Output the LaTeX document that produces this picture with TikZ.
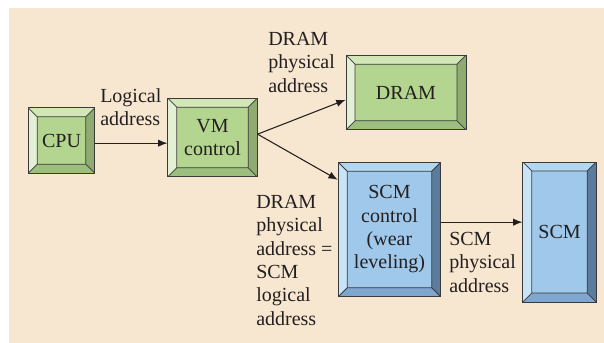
\documentclass[tikz,border=0pt]{standalone}
\usepackage{fontspec}
\setmainfont{Liberation Serif}
\usetikzlibrary{arrows.meta}

% colours of the bevelled blocks
\definecolor{pagebg}{HTML}{F8E7D0}
\definecolor{edge}{HTML}{3A3A3A}
\definecolor{ink}{HTML}{231F20}
\definecolor{greenmid}{HTML}{B3D58F}
\definecolor{greentop}{HTML}{D3E6B8}
\definecolor{greenleft}{HTML}{E4F0D5}
\definecolor{greenright}{HTML}{8FAB72}
\definecolor{greenbot}{HTML}{9CBF7E}
\definecolor{bluemid}{HTML}{9FC8EA}
\definecolor{bluetop}{HTML}{B3D7F0}
\definecolor{blueleft}{HTML}{C9E4F6}
\definecolor{blueright}{HTML}{5B7C9D}
\definecolor{bluebot}{HTML}{7EA6CE}

\def\bv{6.75pt}

\tikzset{
  txt/.style={text=ink, font=\fontsize{15}{17.5}\selectfont, align=center, inner sep=0pt},
  lbl/.style={txt, align=left, anchor=north west},
  bevel/.style={txt, draw=edge, line width=0.6pt, fill=#1mid,
    path picture={
      \coordinate (nw) at (path picture bounding box.north west);
      \coordinate (ne) at (path picture bounding box.north east);
      \coordinate (sw) at (path picture bounding box.south west);
      \coordinate (se) at (path picture bounding box.south east);
      \coordinate (inw) at ([shift={(\bv,-\bv)}]nw);
      \coordinate (ine) at ([shift={(-\bv,-\bv)}]ne);
      \coordinate (isw) at ([shift={(\bv,\bv)}]sw);
      \coordinate (ise) at ([shift={(-\bv,\bv)}]se);
      \fill[#1top] (nw) -- (ne) -- (ine) -- (inw) -- cycle;
      \fill[#1left] (nw) -- (inw) -- (isw) -- (sw) -- cycle;
      \fill[#1right] (ne) -- (se) -- (ise) -- (ine) -- cycle;
      \fill[#1bot] (sw) -- (isw) -- (ise) -- (se) -- cycle;
      \draw[edge, line width=0.6pt] (inw) rectangle (ise)
        (nw) -- (inw) (ne) -- (ine) (sw) -- (isw) (se) -- (ise);
    }},
  link/.style={draw=ink, line width=0.8pt, -{Latex[length=7pt,width=5.5pt]}}
}

\begin{document}
\begin{tikzpicture}[x=0.75pt, y=-0.75pt]
  \useasboundingbox (0,0) rectangle (604,343);
  %fondo
  \fill[pagebg] (9,8) rectangle (604,343);

  %blocchi
  \node[bevel=green, minimum width=50pt, minimum height=49pt] (cpu) at (61.5,140.5) {CPU};
  \node[bevel=green, minimum width=67pt, minimum height=59pt] (vm) at (212.5,137.5) {VM\\control};
  \node[bevel=green, minimum width=90pt, minimum height=56pt] (dram) at (406,92.5) {DRAM};
  \node[bevel=blue, minimum width=77pt, minimum height=101pt] (scmctl) at (389.5,229.5) {SCM\\control\\(wear\\leveling)};
  \node[bevel=blue, minimum width=55pt, minimum height=105pt] (scm) at (559.5,232) {SCM};

  %frecce
  \draw[link] ([yshift=-2pt]cpu.east) -- ([yshift=-2pt]cpu.east -| vm.west);
  \draw[link] ([yshift=2.5pt]vm.east) -- ([yshift=-5.5pt]dram.west);
  \draw[link] ([yshift=2.5pt]vm.east) -- ([yshift=-13.5pt]scmctl.north west);
  \draw[link] ([yshift=5.5pt]scmctl.east) -- ([yshift=5.5pt]scmctl.east -| scm.west);

  %etichette
  \node[lbl] (lbl1) at (100,88) {Logical\\address};
  \node[lbl] (lbl2) at (268,32) {DRAM\\physical\\address};
  \node[lbl] (lbl3) at (256,195) {DRAM\\physical\\address =\\SCM\\logical\\address};
  \node[lbl] (lbl4) at (449,232) {SCM\\physical\\address};
\end{tikzpicture}
\end{document}
